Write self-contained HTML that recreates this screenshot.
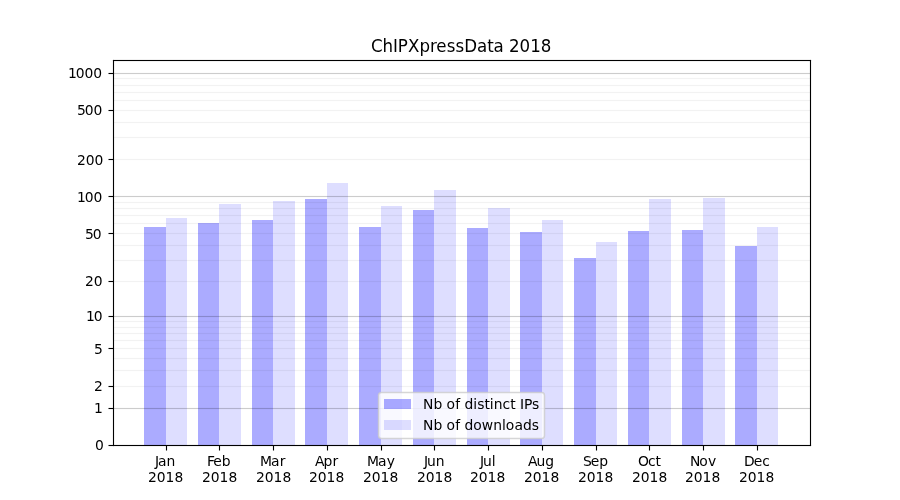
<!DOCTYPE html>
<html lang="en"><head><meta charset="utf-8"><title>ChIPXpressData 2018</title>
<style>
html,body{margin:0;padding:0;background:#fff;overflow:hidden}
svg{display:block}
text{font-family:"DejaVu Sans","Liberation Sans",sans-serif;fill:#000}
</style></head>
<body>
<svg width="900" height="500" viewBox="0 0 900 500">
<rect width="900" height="500" fill="#fff"/>
<g fill="#00f" fill-opacity="0.33" shape-rendering="crispEdges">
<rect x="144" y="227" width="22" height="218"/>
<rect x="198" y="223" width="21" height="222"/>
<rect x="252" y="220" width="21" height="225"/>
<rect x="305" y="199" width="22" height="246"/>
<rect x="359" y="227" width="22" height="218"/>
<rect x="413" y="210" width="21" height="235"/>
<rect x="467" y="228" width="21" height="217"/>
<rect x="520" y="232" width="22" height="213"/>
<rect x="574" y="258" width="22" height="187"/>
<rect x="628" y="231" width="21" height="214"/>
<rect x="682" y="230" width="21" height="215"/>
<rect x="735" y="246" width="22" height="199"/>
</g>
<g fill="#00f" fill-opacity="0.13" shape-rendering="crispEdges">
<rect x="166" y="218" width="21" height="227"/>
<rect x="219" y="204" width="22" height="241"/>
<rect x="273" y="201" width="22" height="244"/>
<rect x="327" y="183" width="21" height="262"/>
<rect x="381" y="206" width="21" height="239"/>
<rect x="434" y="190" width="22" height="255"/>
<rect x="488" y="208" width="22" height="237"/>
<rect x="542" y="220" width="21" height="225"/>
<rect x="596" y="242" width="21" height="203"/>
<rect x="649" y="199" width="22" height="246"/>
<rect x="703" y="198" width="22" height="247"/>
<rect x="757" y="227" width="21" height="218"/>
</g>
<g fill="#000" fill-opacity="0.05">
<rect x="113.5" y="77.915" width="696.5" height="1.17"/>
<rect x="113.5" y="84.915" width="696.5" height="1.17"/>
<rect x="113.5" y="91.915" width="696.5" height="1.17"/>
<rect x="113.5" y="99.915" width="696.5" height="1.17"/>
<rect x="113.5" y="109.915" width="696.5" height="1.17"/>
<rect x="113.5" y="121.915" width="696.5" height="1.17"/>
<rect x="113.5" y="136.915" width="696.5" height="1.17"/>
<rect x="113.5" y="158.915" width="696.5" height="1.17"/>
<rect x="113.5" y="201.915" width="696.5" height="1.17"/>
<rect x="113.5" y="207.915" width="696.5" height="1.17"/>
<rect x="113.5" y="214.915" width="696.5" height="1.17"/>
<rect x="113.5" y="222.915" width="696.5" height="1.17"/>
<rect x="113.5" y="232.915" width="696.5" height="1.17"/>
<rect x="113.5" y="244.915" width="696.5" height="1.17"/>
<rect x="113.5" y="259.915" width="696.5" height="1.17"/>
<rect x="113.5" y="280.915" width="696.5" height="1.17"/>
<rect x="113.5" y="320.915" width="696.5" height="1.17"/>
<rect x="113.5" y="326.915" width="696.5" height="1.17"/>
<rect x="113.5" y="332.915" width="696.5" height="1.17"/>
<rect x="113.5" y="339.915" width="696.5" height="1.17"/>
<rect x="113.5" y="347.915" width="696.5" height="1.17"/>
<rect x="113.5" y="357.915" width="696.5" height="1.17"/>
<rect x="113.5" y="369.915" width="696.5" height="1.17"/>
<rect x="113.5" y="385.915" width="696.5" height="1.17"/>
</g>
<g fill="#000" fill-opacity="0.2">
<rect x="113.5" y="72.930" width="696.5" height="1.14"/>
<rect x="113.5" y="195.930" width="696.5" height="1.14"/>
<rect x="113.5" y="315.930" width="696.5" height="1.14"/>
<rect x="113.5" y="407.930" width="696.5" height="1.14"/>
</g>
<g fill="#000">
<rect x="165.945" y="445.5" width="1.11" height="5"/>
<rect x="218.945" y="445.5" width="1.11" height="5"/>
<rect x="272.945" y="445.5" width="1.11" height="5"/>
<rect x="326.945" y="445.5" width="1.11" height="5"/>
<rect x="380.945" y="445.5" width="1.11" height="5"/>
<rect x="433.945" y="445.5" width="1.11" height="5"/>
<rect x="487.945" y="445.5" width="1.11" height="5"/>
<rect x="541.945" y="445.5" width="1.11" height="5"/>
<rect x="595.945" y="445.5" width="1.11" height="5"/>
<rect x="648.945" y="445.5" width="1.11" height="5"/>
<rect x="702.945" y="445.5" width="1.11" height="5"/>
<rect x="756.945" y="445.5" width="1.11" height="5"/>
<rect x="108.5" y="444.945" width="5" height="1.11"/>
<rect x="108.5" y="407.945" width="5" height="1.11"/>
<rect x="108.5" y="385.945" width="5" height="1.11"/>
<rect x="108.5" y="347.945" width="5" height="1.11"/>
<rect x="108.5" y="315.945" width="5" height="1.11"/>
<rect x="108.5" y="280.945" width="5" height="1.11"/>
<rect x="108.5" y="232.945" width="5" height="1.11"/>
<rect x="108.5" y="195.945" width="5" height="1.11"/>
<rect x="108.5" y="158.945" width="5" height="1.11"/>
<rect x="108.5" y="109.945" width="5" height="1.11"/>
<rect x="108.5" y="72.945" width="5" height="1.11"/>
<rect x="112.945" y="59.945" width="1.11" height="386.11"/>
<rect x="809.945" y="59.945" width="1.11" height="386.11"/>
<rect x="112.945" y="59.945" width="698.11" height="1.11"/>
<rect x="112.945" y="444.945" width="698.11" height="1.11"/>
</g>
<g font-size="13.889">
<text x="95.077" y="450">0</text>
<text x="94.077" y="413">1</text>
<text x="94.077" y="391">2</text>
<text x="94.077" y="354">5</text>
<text x="85.249" y="321" dx="0.875 -1.125">10</text>
<text x="84.999" y="286">20</text>
<text x="83.999" y="239" dx="1 -1">50</text>
<text x="75.921" y="202" dx="1 -1 0">100</text>
<text x="76.921" y="165">200</text>
<text x="75.921" y="115" dx="1 -1 0">500</text>
<text x="66.968" y="78" dx="1 -1 0 -0.125">1000</text>
<text x="154.004" y="466" dx="1 -1 0">Jan</text><text x="147.918" y="482">2018</text>
<text x="206.021" y="466" dx="1 -1 0">Feb</text><text x="201.904" y="482" dx="0.125 -0.125 0 0">2018</text>
<text x="260.078" y="466" dx="0 -1 0.25">Mar</text><text x="255.891" y="482" dx="0.125 -0.125 0 0">2018</text>
<text x="314.276" y="466" dx="0.75 -1 0.25">Apr</text><text x="308.877" y="482" dx="0 0 0 0.25">2018</text>
<text x="366.301" y="466" dx="0.75 -1 0.25">May</text><text x="362.989" y="482" dx="0 0 -0.125 0.125">2018</text>
<text x="422.913" y="466" dx="1 -1 0">Jun</text><text x="416.975" y="482">2018</text>
<text x="478.993" y="466" dx="1 -1 -0.125">Jul</text><text x="469.962" y="482">2018</text>
<text x="527.058" y="466" dx="1 -1 0">Aug</text><text x="523.948" y="482">2018</text>
<text x="582.013" y="466" dx="1 -1 0">Sep</text><text x="577.935" y="482">2018</text>
<text x="637.203" y="466" dx="0.875 -0.875 -0.25">Oct</text><text x="631.921" y="482">2018</text>
<text x="689.142" y="466" dx="0.875 -1.125 0.25">Nov</text><text x="684.908" y="482">2018</text>
<text x="743.121" y="466" dx="1 -1 0">Dec</text><text x="738.894" y="482" dx="0.125 -0.125 0 0">2018</text>
</g>
<g font-size="17.500" transform="scale(0.95240 1.00000)">
<text x="389.389" y="52" dx="0.262 -0.262 0 -0.131 0.131 0 0 -0.262 0.262 0 0 0 0 -0.131 0.131 -0.131 -0.131 0.131 -0.131">ChIPXpressData 2018</text>
</g>
<rect x="378.520" y="392.400" width="165.960" height="46.060" rx="2.980" ry="2.980" fill="#fff" fill-opacity="0.8" stroke="#ccc" stroke-opacity="0.8" stroke-width="1.489"/>
<rect x="384" y="399" width="27" height="10" fill="#00f" fill-opacity="0.33" shape-rendering="crispEdges"/>
<rect x="384" y="420" width="27" height="10" fill="#00f" fill-opacity="0.13" shape-rendering="crispEdges"/>
<g font-size="13.889">
<text x="423.07" y="409" dx="0 0 0 -0.125 0.125 0 0 0 0 0 0 0 0 0 0 0 -0.125 -0.125">Nb of distinct IPs</text>
<text x="423.07" y="430" dx="-0.125 0.125 0 -0.125 0.125 0 0 0 0 0 0 0 0.25 0 -0.25">Nb of downloads</text>
</g>
</svg>
</body></html>
